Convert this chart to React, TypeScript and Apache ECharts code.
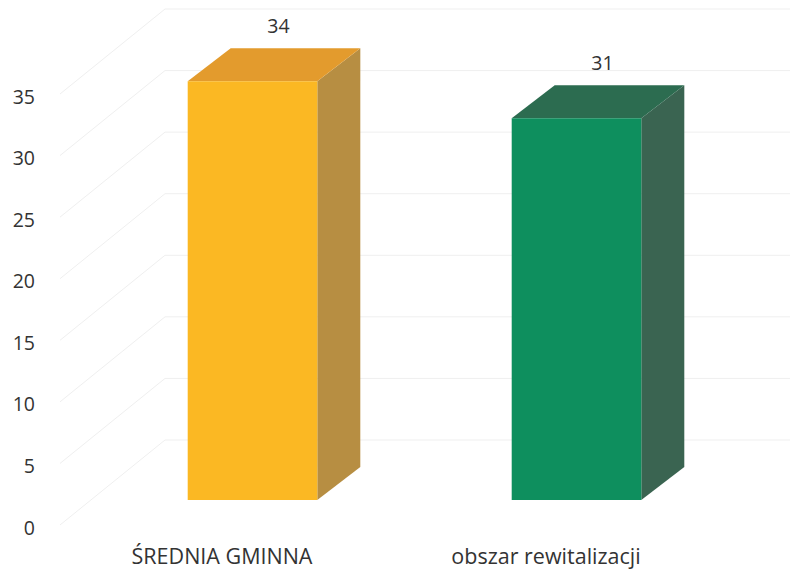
import React, { useEffect, useRef } from "react";
import * as echarts from "echarts";

const categories = ["ŚREDNIA GMINNA", "obszar rewitalizacji"];
const values = [34, 31];
const yTicks = [0, 5, 10, 15, 20, 25, 30, 35];
const frontColors = ["#FBB823", "#0E8F5E"];
const topColors = ["#E39B2D", "#2C6C50"];
const sideColors = ["#B78E42", "#3A6451"];

// oblique projection constants (pixels)
const BAR_SHIFT_X = 30.5;
const BAR_SHIFT_Y = -27;
const BAR_DEPTH_X = 43;
const BAR_DEPTH_Y = -33;
const WALL_DEPTH_X = 105;
const WALL_DEPTH_Y = -85;

export default function App() {
  const ref = useRef<HTMLDivElement>(null);
  useEffect(() => {
    if (!ref.current) return;
    const chart = echarts.init(ref.current, null, { renderer: "svg" });
    const fontFamily = "'Open Sans', 'Noto Sans', sans-serif";
    chart.setOption({
      animation: false,
      backgroundColor: "#ffffff",
      grid: { left: 60, width: 648, top: 96, bottom: 44, containLabel: false },
      xAxis: {
        type: "category",
        data: categories,
        axisLine: { show: false },
        axisTick: { show: false },
        splitLine: { show: false },
        axisLabel: { fontSize: 21.5, color: "#333333", margin: 17, fontFamily },
      },
      yAxis: {
        type: "value",
        min: 0,
        max: 35,
        interval: 5,
        axisLine: { show: false },
        axisTick: { show: false },
        splitLine: { show: false },
        axisLabel: { fontSize: 19.5, color: "#333333", margin: 25, fontFamily },
      },
      series: [
        {
          type: "custom",
          silent: true,
          data: yTicks.map((v) => [0, v]),
          renderItem: (params: any, api: any) => {
            const v = api.value(1);
            const p = api.coord([0, v]);
            const band = api.size([1, 0])[0];
            const left = p[0] - band / 2;
            const y = p[1] - 2;
            return {
              type: "polyline",
              shape: {
                points: [
                  [left, y],
                  [left + WALL_DEPTH_X, y + WALL_DEPTH_Y],
                  [api.getWidth(), y + WALL_DEPTH_Y],
                ],
              },
              style: { stroke: "#efefef", lineWidth: 1, fill: "none" },
            };
          },
        },
        {
          type: "custom",
          data: values.map((v, i) => [i, v]),
          renderItem: (params: any, api: any) => {
            const i = api.value(0);
            const v = api.value(1);
            const top = api.coord([i, v]);
            const base = api.coord([i, 0]);
            const band = api.size([1, 0])[0];
            const w = band * 0.4;
            const cx = top[0] + BAR_SHIFT_X;
            const x0 = cx - w / 2;
            const x1 = cx + w / 2;
            const yT = top[1] + BAR_SHIFT_Y;
            const yB = base[1] + BAR_SHIFT_Y;
            return {
              type: "group",
              children: [
                {
                  type: "polygon",
                  shape: {
                    points: [
                      [x1, yT],
                      [x1 + BAR_DEPTH_X, yT + BAR_DEPTH_Y],
                      [x1 + BAR_DEPTH_X, yB + BAR_DEPTH_Y],
                      [x1, yB],
                    ],
                  },
                  style: { fill: sideColors[i] },
                },
                {
                  type: "polygon",
                  shape: {
                    points: [
                      [x0, yT],
                      [x0 + BAR_DEPTH_X, yT + BAR_DEPTH_Y],
                      [x1 + BAR_DEPTH_X, yT + BAR_DEPTH_Y],
                      [x1, yT],
                    ],
                  },
                  style: { fill: topColors[i] },
                },
                {
                  type: "rect",
                  shape: { x: x0, y: yT, width: w, height: yB - yT },
                  style: { fill: frontColors[i] },
                },
                {
                  type: "text",
                  x: cx + 26,
                  y: yT + BAR_DEPTH_Y - 23,
                  style: {
                    text: String(v),
                    fontSize: 19.5,
                    fontFamily,
                    fill: "#333333",
                    align: "center",
                    verticalAlign: "middle",
                  },
                },
              ],
            };
          },
        },
      ],
    });
    return () => chart.dispose();
  }, []);
  return (
    <div
      ref={ref}
      style={{ position: "absolute", left: 0, top: 0, width: 790, height: 571 }}
    />
  );
}
